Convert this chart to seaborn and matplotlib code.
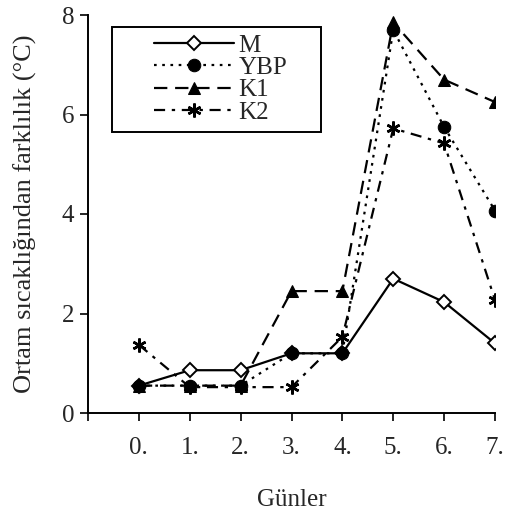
import matplotlib
matplotlib.use("Agg")
import matplotlib.pyplot as plt
from matplotlib.patches import Rectangle
import seaborn as sns
import pandas as pd

days = [0, 1, 2, 3, 4, 5, 6, 7]
day_labels = ["0.", "1.", "2.", "3.", "4.", "5.", "6.", "7."]
M = [0.55, 0.86, 0.86, 1.2, 1.2, 2.7, 2.23, 1.4]
YBP = [0.55, 0.55, 0.55, 1.2, 1.2, 7.7, 5.75, 4.07]
K1 = [0.55, 0.55, 0.55, 2.45, 2.45, 7.85, 6.7, 6.25]
K2 = [1.37, 0.52, 0.52, 0.52, 1.53, 5.72, 5.42, 2.27]
series_names = ["M", "YBP", "K1", "K2"]

sns.set_style("ticks")
plt.rcParams["font.family"] = ["Liberation Serif", "DejaVu Serif"]

W, H = 509, 514
fig = plt.figure(figsize=(W / 100, H / 100), dpi=100)
x0, x1, y0, y1 = 88, 495, 413, 15
ax = fig.add_axes([x0 / W, 1 - y0 / H, (x1 - x0) / W, (y0 - y1) / H])

styles = {
    "M": dict(linestyle="-", marker="D", markersize=7, markerfacecolor="white", markeredgewidth=1.4),
    "YBP": dict(linestyle=(0, (1.2, 2.5)), marker="o", markersize=9, markerfacecolor="black"),
    "K1": dict(linestyle=(0, (6, 3.5)), marker="^", markersize=9, markerfacecolor="black"),
    "K2": dict(linestyle=(0, (5, 3, 1.5, 3)), marker=(6, 2, 0), markersize=10, markeredgewidth=1.8),
}
data = {"M": M, "YBP": YBP, "K1": K1, "K2": K2}

for name in series_names:
    df = pd.DataFrame({"day": days, "val": data[name]})
    sns.lineplot(data=df, x="day", y="val", ax=ax, color="black", linewidth=1.6,
                 markeredgecolor="black", label=name, **styles[name])

ax.set_xlim(-1, 7)
ax.set_ylim(0, 8)
ax.set_xticks([-1] + days)
ax.set_xticklabels([""] + day_labels, fontsize=18)
ax.set_yticks([0, 2, 4, 6, 8])
ax.set_yticklabels(["0", "2", "4", "6", "8"], fontsize=18)
ax.tick_params(axis="x", length=6, width=1.2, color="black", pad=11)
ax.tick_params(axis="y", length=6, width=1.2, color="black", pad=4)
for s in ["left", "bottom"]:
    ax.spines[s].set_linewidth(1.4)
    ax.spines[s].set_color("black")
sns.despine(ax=ax)

ax.set_xlabel("Günler", fontsize=18, labelpad=22)
ax.set_ylabel("Ortam sıcaklığından farklılık (°C)", fontsize=19, labelpad=18)

# legend (frameless) plus an outer box
def ax_x(px):
    return (px - x0) / (x1 - x0)

def ax_y(py):
    return (y0 - py) / (y0 - y1)

leg = ax.legend(loc="upper left", bbox_to_anchor=(ax_x(154), ax_y(34)), borderaxespad=0,
                borderpad=0, fontsize=18, handlelength=3.2, frameon=False,
                labelspacing=0.0, handletextpad=0.18)
box = Rectangle((ax_x(112), ax_y(132)), ax_x(321) - ax_x(112), ax_y(27) - ax_y(132),
                transform=ax.transAxes, fill=True, facecolor="white", edgecolor="black",
                linewidth=1.4, zorder=4)
ax.add_patch(box)
leg.set_zorder(5)

fig.savefig("out.png", dpi=100)
